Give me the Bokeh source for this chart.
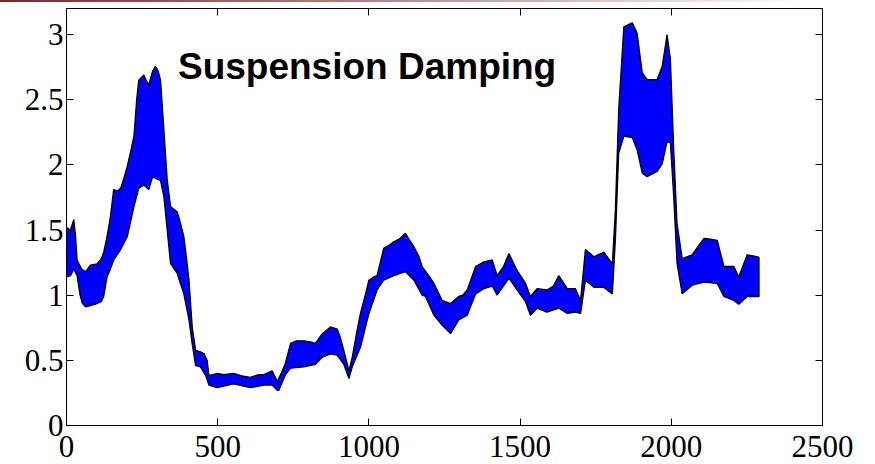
from bokeh.plotting import figure
from bokeh.models import LinearAxis, FixedTicker, Label, Range1d, Div
from bokeh.layouts import column
from bokeh.embed import file_html
from bokeh.resources import INLINE

# ---- data ----
upper_x = [0, 13, 24, 30, 35, 50, 63, 79, 101, 115, 123, 134, 145, 156, 168, 179, 190, 201, 212, 223,
           232, 239, 256, 265, 272, 285, 294, 303, 311, 322, 333, 344, 355, 366, 377, 388, 396, 405,
           416, 427, 443, 455, 465, 471, 485, 498, 520, 553, 580, 608, 635, 653, 680, 697, 710, 724,
           741, 760, 785, 810, 823, 846, 873, 895, 905, 917, 934, 945, 960, 972, 990, 1000, 1015, 1027,
           1049, 1065, 1082, 1100, 1121, 1135, 1149, 1165, 1176, 1204, 1215, 1242, 1270, 1297, 1310,
           1325, 1353, 1380, 1408, 1424, 1445, 1463, 1490, 1518, 1534, 1556, 1589, 1610, 1628, 1656,
           1683, 1700, 1716, 1744, 1777, 1805, 1815, 1826, 1843, 1871, 1887, 1904, 1920, 1953, 1970,
           1986, 1997, 2008, 2019, 2036, 2069, 2090, 2108, 2130, 2152, 2174, 2207, 2223, 2251, 2275, 2290]
upper_y = [1.52, 1.50, 1.58, 1.45, 1.27, 1.20, 1.18, 1.23, 1.24, 1.28, 1.33, 1.45, 1.60, 1.81, 1.80,
           1.82, 1.90, 1.99, 2.10, 2.22, 2.50, 2.65, 2.69, 2.64, 2.615, 2.72, 2.756, 2.72, 2.65, 2.27,
           1.885, 1.68, 1.66, 1.64, 1.55, 1.45, 1.30, 1.115, 0.75, 0.577, 0.565, 0.55, 0.50, 0.385,
           0.39, 0.40, 0.39, 0.40, 0.38, 0.37, 0.39, 0.39, 0.42, 0.34, 0.40, 0.48, 0.63, 0.65, 0.65,
           0.64, 0.63, 0.705, 0.756, 0.74, 0.68, 0.577, 0.42, 0.525, 0.72, 0.86, 1.02, 1.115, 1.14,
           1.15, 1.36, 1.38, 1.41, 1.43, 1.475, 1.42, 1.37, 1.30, 1.22, 1.13, 1.09, 0.96, 0.936, 0.99,
           1.00, 1.04, 1.22, 1.256, 1.27, 1.15, 1.22, 1.32, 1.19, 1.09, 0.99, 1.05, 1.04, 1.07, 1.15,
           1.05, 1.05, 0.96, 1.35, 1.295, 1.33, 1.24, 1.65, 2.42, 3.06, 3.09, 3.01, 2.705, 2.654, 2.654,
           2.756, 3.00, 2.81, 2.115, 1.55, 1.28, 1.31, 1.38, 1.436, 1.43, 1.42, 1.22, 1.22, 1.14, 1.31,
           1.30, 1.29]

lower_x = [0, 13, 24, 35, 45, 52, 63, 79, 101, 115, 123, 134, 145, 156, 179, 201, 223, 239, 256, 272,
           285, 300, 311, 322, 333, 344, 366, 388, 405, 416, 427, 443, 460, 471, 498, 553, 608, 653,
           680, 697, 702, 724, 741, 785, 823, 846, 873, 895, 917, 934, 945, 972, 1000, 1027, 1049,
           1082, 1121, 1149, 1176, 1187, 1215, 1242, 1270, 1297, 1325, 1353, 1380, 1408, 1424, 1463,
           1490, 1518, 1534, 1556, 1589, 1628, 1656, 1683, 1700, 1716, 1744, 1777, 1805, 1815, 1826,
           1843, 1871, 1887, 1904, 1920, 1953, 1970, 1986, 1997, 2008, 2019, 2036, 2069, 2108, 2152,
           2174, 2207, 2223, 2251, 2290]
lower_y = [1.14, 1.15, 1.20, 1.15, 1.00, 0.94, 0.91, 0.92, 0.936, 0.95, 0.99, 1.14, 1.20, 1.27, 1.35,
           1.45, 1.68, 1.82, 1.846, 1.81, 1.91, 1.89, 1.88, 1.756, 1.50, 1.244, 1.167, 1.01, 0.81,
           0.62, 0.46, 0.45, 0.385, 0.31, 0.29, 0.32, 0.29, 0.31, 0.31, 0.27, 0.27, 0.39, 0.44, 0.45,
           0.47, 0.525, 0.55, 0.54, 0.47, 0.36, 0.45, 0.60, 0.86, 1.04, 1.115, 1.15, 1.18, 1.115, 1.00,
           0.99, 0.846, 0.77, 0.705, 0.81, 0.846, 1.01, 1.05, 1.07, 1.00, 1.13, 1.04, 0.95, 0.846, 0.90,
           0.87, 0.90, 0.86, 0.87, 0.86, 1.115, 1.06, 1.06, 1.01, 1.42, 2.09, 2.22, 2.21, 2.115, 1.936,
           1.91, 1.95, 2.01, 2.18, 2.17, 1.756, 1.244, 1.01, 1.077, 1.10, 1.09, 0.99, 0.96, 0.93, 0.99,
           0.99]

x_ticks = [0, 500, 1000, 1500, 2000, 2500]
y_ticks = [0, 0.5, 1, 1.5, 2, 2.5, 3]
title_text = "Suspension Damping"

TICK_FONT = "Liberation Serif"

p = figure(width=875, height=462, output_backend="svg", toolbar_location=None,
           x_range=Range1d(0, 2500), y_range=Range1d(0, 3.2),
           min_border_left=66, min_border_right=53, min_border_top=6, min_border_bottom=39)
p.grid.visible = False
p.outline_line_color = "black"
p.outline_line_width = 1
p.background_fill_color = "white"
p.border_fill_color = "white"

# band: upper envelope forward, lower envelope backward
px = list(upper_x) + list(reversed(lower_x))
py = list(upper_y) + list(reversed(lower_y))
p.patch(px, py, fill_color="#0000ff", line_color="black", line_width=1.3)

def style_axis(ax, ticks, show_labels):
    ax.ticker = FixedTicker(ticks=ticks)
    ax.axis_line_color = "black"
    ax.major_tick_line_color = "black"
    ax.major_tick_in = 7
    ax.major_tick_out = 0
    ax.minor_tick_line_color = None
    ax.major_label_text_font = TICK_FONT
    if show_labels:
        ax.major_label_text_color = "black"
        ax.major_label_text_font_size = "31px"
        ax.major_label_standoff = 3
    else:
        ax.major_label_text_color = None
        ax.major_label_text_font_size = "1px"
        ax.major_label_standoff = 0

style_axis(p.xaxis[0], x_ticks, True)
p.xaxis[0].major_label_text_line_height = 0.8
p.xaxis[0].major_label_standoff = 10
style_axis(p.yaxis[0], y_ticks, True)

top_ax = LinearAxis()
style_axis(top_ax, x_ticks, False)
p.add_layout(top_ax, "above")
right_ax = LinearAxis()
style_axis(right_ax, y_ticks, False)
p.add_layout(right_ax, "right")

title = Label(x=994, y=2.755, text=title_text, text_font="Liberation Sans",
              text_font_style="bold", text_font_size="37px", text_color="black",
              text_align="center", text_baseline="alphabetic")
p.add_layout(title)

bar = Div(text="", width=875, height=2,
          styles={"background": "linear-gradient(to right, #7b2828 0%, #b88a8a 45%, #ffffff 92%)",
                  "margin": "0", "padding": "0"})

layout = column(bar, p, spacing=0)
open("out.html", "w").write(file_html(layout, INLINE))
